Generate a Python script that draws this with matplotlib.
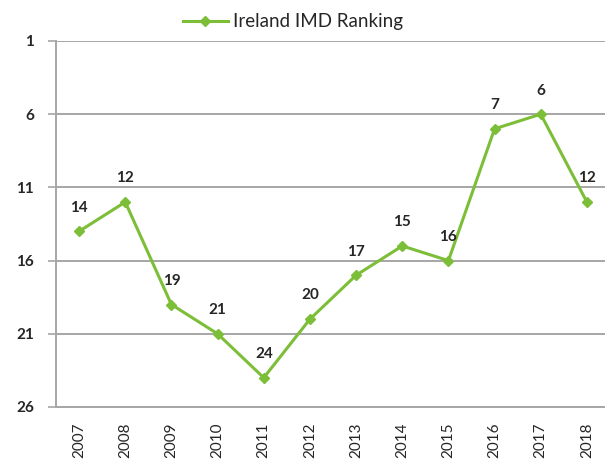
"""Ireland IMD ranking line chart."""

import matplotlib
matplotlib.use('Agg')
import matplotlib.pyplot as plt
from matplotlib.lines import Line2D

years = ['2007', '2008', '2009', '2010', '2011', '2012', '2013', '2014', '2015', '2016', '2017', '2018']
ranking = [14, 12, 19, 21, 24, 20, 17, 15, 16, 7, 6, 12]
y_ticks = [1, 6, 11, 16, 21, 26]

GREEN = '#7DBE38'
GRID = '#A6A6A6'
TEXT = '#262626'

plt.rcParams['font.family'] = ['Lato', 'DejaVu Sans']

fig = plt.figure(figsize=(6.05, 4.62), dpi=100)
ax = fig.add_axes([56 / 605, 55 / 462, 554 / 605, 366 / 462])

x = list(range(len(years)))
ax.plot(x, ranking, color=GREEN, linewidth=2.2, marker='D', markersize=5,
        markerfacecolor=GREEN, markeredgecolor=GREEN)

for xi, v in zip(x, ranking):
    ax.annotate(str(v), (xi, v), xytext=(0, 12), textcoords='offset points',
                ha='center', va='bottom', fontsize=11, fontweight='bold', color=TEXT)

ax.set_xlim(-0.5, len(years) - 0.5)
ax.set_ylim(26, 1)
ax.set_yticks(y_ticks)
ax.set_yticklabels([str(t) for t in y_ticks], fontsize=11, fontweight='bold', color=TEXT)
ax.set_xticks(x)
ax.set_xticklabels(years, rotation=90, fontsize=11, color=TEXT)
ax.tick_params(axis='y', length=6, width=1.2, color=GRID, pad=10)
ax.tick_params(axis='x', length=0, pad=11)

ax.grid(axis='y', color=GRID, linewidth=1.4)
ax.set_axisbelow(True)
for side in ['top', 'right']:
    ax.spines[side].set_visible(False)
for side in ['left', 'bottom']:
    ax.spines[side].set_color(GRID)
    ax.spines[side].set_linewidth(1.4)

handle = Line2D([], [], color=GREEN, linewidth=2.2, marker='D', markersize=5)
fig.legend([handle], ['Ireland IMD Ranking'], loc='center', bbox_to_anchor=(293 / 605, 1 - 22 / 462),
           frameon=False, fontsize=13.5, handlelength=2.4, handletextpad=0.3,
           labelcolor=TEXT)

fig.savefig('out.png', dpi=100)
